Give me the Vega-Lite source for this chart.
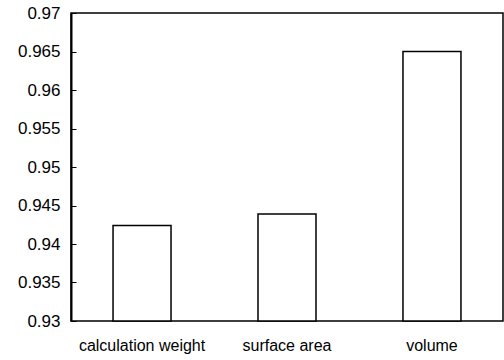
{
  "$schema": "https://vega.github.io/schema/vega-lite/v6.json",
  "autosize": "none",
  "padding": {"left": 71, "top": 13, "right": 1, "bottom": 39},
  "width": 432,
  "height": 308,
  "background": "white",
  "config": {
    "view": {"stroke": "black", "strokeWidth": 1.5},
    "font": "Liberation Sans"
  },
  "data": {
    "values": [
      {"measure": "calculation weight", "value": 0.9424},
      {"measure": "surface area", "value": 0.9439},
      {"measure": "volume", "value": 0.965}
    ]
  },
  "mark": {"type": "bar", "fill": "white", "stroke": "black", "strokeWidth": 1.5},
  "encoding": {
    "x": {
      "field": "measure",
      "type": "nominal",
      "sort": null,
      "scale": {"paddingInner": 0.6, "paddingOuter": 0.29},
      "axis": {
        "title": null,
        "labelAngle": 0,
        "ticks": false,
        "domain": false,
        "labelFontSize": 16,
        "labelColor": "black",
        "labelPadding": 16,
        "labelBaseline": "top"
      }
    },
    "y": {
      "field": "value",
      "type": "quantitative",
      "scale": {"domain": [0.93, 0.97], "nice": false, "zero": false},
      "axis": {
        "title": null,
        "values": [0.93, 0.935, 0.94, 0.945, 0.95, 0.955, 0.96, 0.965, 0.97],
        "format": "~g",
        "grid": false,
        "domainColor": "black",
        "domainWidth": 2,
        "tickColor": "black",
        "tickSize": -5,
        "labelFontSize": 17,
        "labelColor": "black",
        "labelPadding": 16
      }
    },
    "y2": {"datum": 0.93}
  }
}
